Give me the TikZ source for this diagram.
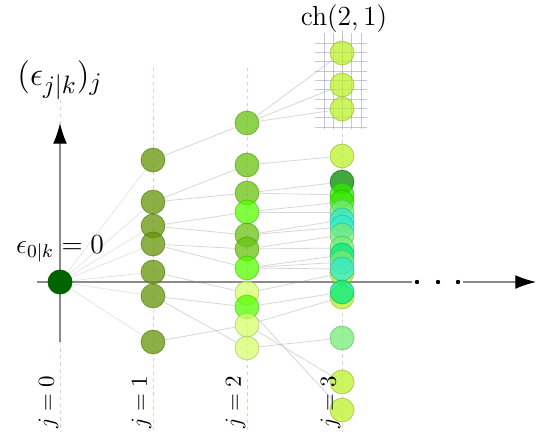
\documentclass[tikz,border=0pt]{standalone}
\usepackage{amsmath,amssymb}
\usetikzlibrary{arrows.meta,backgrounds}
\definecolor{axisgray}{HTML}{8A8A8A}
\definecolor{guidepink}{HTML}{F5C4C4}
\definecolor{gridpurple}{HTML}{A0A0CC}
\definecolor{linkgray}{HTML}{9A9A9A}
\definecolor{fillroot}{HTML}{006400}
\definecolor{fillolive}{HTML}{679508}
\definecolor{fillyg}{HTML}{68C310}
\definecolor{fillbright}{HTML}{55FF00}
\definecolor{fillpale}{HTML}{D5FF6B}
\definecolor{fillyellow}{HTML}{BBF22B}
\definecolor{filldark}{HTML}{008B00}
\definecolor{fillvivid}{HTML}{33E900}
\definecolor{fillmint}{HTML}{76EB76}
\definecolor{fillcyan}{HTML}{33EBCB}
\definecolor{fillteal}{HTML}{00EB80}
\tikzset{
 ball/.style={circle,minimum size=10.4pt,inner sep=0pt,line width=.4pt,fill opacity=.75,draw opacity=.55},
 ballof/.style={ball,fill=#1,draw=#1!75!black},
 rootball/.style={ball,fill=fillroot,draw=fillroot,fill opacity=1,draw opacity=1},
 link/.style={draw=linkgray,line width=.35pt,draw opacity=.4},
 faintlink/.style={link,draw opacity=.25},
 guide/.style={draw=guidepink,line width=.35pt,dash pattern=on 1.5pt off 1.5pt},
 gridline/.style={draw=gridpurple,line width=.35pt,draw opacity=.6},
 axis/.style={draw=axisgray,line width=.5pt},
 axisarrow/.style={axis,-{Latex[length=9pt,width=6pt,color=black]}},
 ellipsisdot/.style={circle,fill=black,minimum size=1.9pt,inner sep=0pt,outer sep=1.4pt},
 collabel/.style={rotate=90,anchor=south,inner sep=.5pt},
}

\begin{document}
\begin{tikzpicture}[x=.4348pt,y=.4348pt]

\useasboundingbox (-60,-155) rectangle (480,282);
\foreach \x/\t in {0/182,93/214,187/214,282/252}
  \draw[guide] (\x,\t) -- (\x,-150);
\foreach \k in {0,...,9}
  \draw[gridline] (255,{155+\k*9.33}) -- (307,{155+\k*9.33});
\foreach \k in {0,...,4}
  \draw[gridline] ({264+\k*9.25},153) -- ({264+\k*9.25},249);

\coordinate (ybot) at (0,-60);
\coordinate (ytop) at (0,159);
\coordinate (xleft) at (-23,0);
\coordinate (xtip) at (476,0);
\foreach \x/\i in {357/1,378/2,398/3}
  \node[ellipsisdot] (dot\i) at (\x,0) {};
\draw[axisarrow] (ybot) -- (ytop);
\draw[axis] (xleft) -- (dot1);
\draw[axisarrow] (dot3) -- (xtip);

\node[rootball] (root) at (0,0) {};
\foreach \y/\i in {122/1,80/2,56/3,38/4,10/5,-14/6,-60/7}
  \node[ballof=fillolive] (a\i) at (93,\y) {};
\foreach \y/\c/\i in {159/fillyg/1,117/fillyg/2,89/fillyg/3,70/fillbright/4,47/fillyg/5,33/fillyg/6,14/fillbright/7,-11/fillpale/8,-25/fillbright/9,-43/fillpale/10,-66/fillpale/11}
  \node[ballof=\c] (b\i) at (187,\y) {};
\foreach \y/\c/\i in {229/fillyellow/1,197/fillyellow/2,173/fillyellow/3,126/fillyellow/4,100/filldark/5,87/fillvivid/6,80/fillvivid/7,70/fillmint/8,62/fillcyan/9,55/fillcyan/10,47/fillmint/11,34/fillmint/12,9/fillyellow/13,-15/fillyellow/14,27/fillteal/15,20/fillmint/16,13/fillcyan/17,-10/fillteal/18,-56/fillmint/19,-100/fillyellow/20,-128/fillyellow/21}
  \node[ballof=\c] (c\i) at (282,\y) {};

\begin{scope}[on background layer]
\foreach \i in {1,...,7}
  \draw[faintlink] (root) -- (a\i);
\foreach \i/\p in {1/1,2/2,3/2,4/3,5/3,6/4,7/4,8/5,9/6,10/7,11/6}
  \draw[link] (a\p) -- (b\i);
\foreach \i/\p in {1/1,2/1,3/1,4/2,5/3,6/3,7/4,8/4,9/5,10/5,11/6,12/6,13/8,14/10,15/7,16/7,17/7,18/9,19/11,20/10,21/9}
  \draw[link] (b\p) -- (c\i);
\end{scope}

\node[font=\fontsize{15.5}{18}\selectfont] (ylabel) at (0,202) {$(\epsilon_{j|k})_j$};
\node[font=\large,anchor=base] (rootlabel) at (0,29) {$\epsilon_{0|k} = 0$};
\node[font=\large,anchor=base] (chlabel) at (284,257) {$\mathrm{ch}(2,1)$};
\foreach \x/\i in {0/0,93/1,187/2,282/3}
  \node[collabel] (col\i) at (\x,-120) {$j=\i$};

\end{tikzpicture}
\end{document}
